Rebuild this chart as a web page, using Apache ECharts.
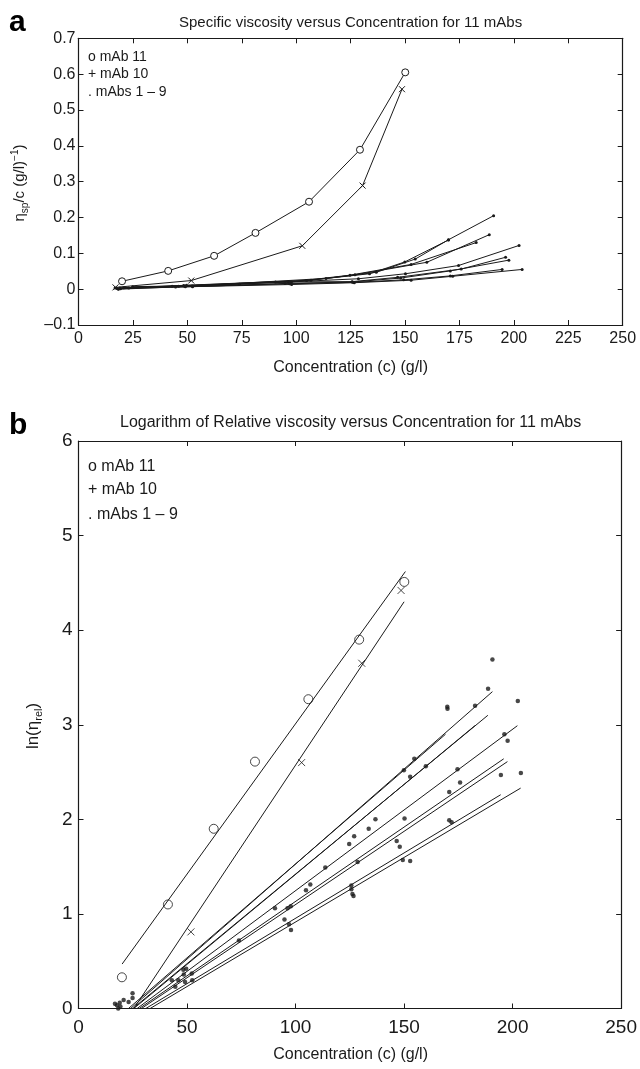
<!DOCTYPE html>
<html>
<head>
<meta charset="utf-8">
<title>Viscosity versus concentration for 11 mAbs</title>
<script src="https://cdn.jsdelivr.net/npm/echarts/dist/echarts.min.js"></script>
<style>
  html, body { margin: 0; padding: 0; background: #fff; }
  #chart { width: 640px; height: 1069px; }
</style>
</head>
<body>
<div id="chart"></div>
<script>
// concentrations (g/l) of mAbs 1 - 9, one row per antibody
const smallConc = [
  [19.0, 49.6, 106.8, 136.8, 154.7, 170.0, 190.7],
  [17.7, 48.3, 104.8, 133.7, 149.9, 169.9],
  [20.8, 52.2, 113.7, 127.0, 160.0, 188.7],
  [24.9, 48.5, 97.8, 124.7, 152.8, 182.7],
  [23.1, 43.0, 96.3, 128.6, 150.2, 174.6, 202.4],
  [16.8, 46.0, 73.9, 90.5, 125.7, 146.6, 175.8, 196.2],
  [24.9, 52.4, 94.9, 125.7, 148.0, 170.8, 197.7],
  [19.3, 49.1, 97.0, 126.2, 149.4, 170.8, 194.6],
  [18.3, 44.6, 97.9, 126.7, 152.8, 171.9, 203.8]
]
// panel a: eta_sp / c
const smallSpVisc = [
  [0.003, 0.011, 0.025, 0.047, 0.084, 0.138, 0.205],
  [0.002, 0.010, 0.024, 0.043, 0.076, 0.137],
  [0.004, 0.009, 0.030, 0.040, 0.075, 0.152],
  [0.007, 0.009, 0.020, 0.039, 0.069, 0.130],
  [0.003, 0.008, 0.020, 0.029, 0.043, 0.066, 0.122],
  [0.003, 0.008, 0.014, 0.020, 0.021, 0.033, 0.056, 0.089],
  [0.005, 0.007, 0.016, 0.020, 0.031, 0.051, 0.081],
  [0.001, 0.007, 0.015, 0.019, 0.026, 0.037, 0.055],
  [0.000, 0.006, 0.013, 0.018, 0.025, 0.036, 0.055]
]
// panel b: ln(eta_rel)
const smallLnRel = [
  [0.06, 0.42, 1.31, 2.00, 2.64, 3.17, 3.69],
  [0.035, 0.41, 1.25, 1.90, 2.52, 3.19],
  [0.09, 0.37, 1.49, 1.82, 2.56, 3.38],
  [0.16, 0.36, 1.08, 1.74, 2.45, 3.20],
  [0.07, 0.30, 1.06, 1.55, 2.01, 2.53, 3.25],
  [0.05, 0.30, 0.72, 1.06, 1.30, 1.77, 2.39, 2.90],
  [0.11, 0.30, 0.94, 1.26, 1.71, 2.29, 2.83],
  [0.02, 0.28, 0.89, 1.21, 1.57, 1.99, 2.47],
  [0.00, 0.23, 0.83, 1.19, 1.56, 1.97, 2.49]
]
// straight fitted lines of panel b for mAbs 1 - 9: from (start, 0) to (end, endValue)
const smallFitStart = [24, 23, 25, 25.5, 27, 28, 29, 31, 33]
const smallFitEnd = [190.7, 169.1, 188.6, 182.6, 202.2, 195.9, 197.6, 194.5, 203.7]
const smallFitEndValue = [3.35, 2.90, 3.10, 2.99, 2.99, 2.64, 2.61, 2.26, 2.33]

// mAb 11
const mab11Conc = [20.0, 41.2, 62.3, 81.3, 105.9, 129.3, 150.1]
const mab11SpVisc = [0.022, 0.051, 0.093, 0.157, 0.244, 0.389, 0.605]
const mab11LnRel = [0.33, 1.10, 1.90, 2.61, 3.27, 3.90, 4.51]
const mab11Fit = [[20.1, 0.47], [150.6, 4.62]]

// mAb 10 (first point only visible in panel a)
const mab10Conc = [17.0, 51.8, 102.8, 130.5, 148.6]
const mab10SpVisc = [0.005, 0.024, 0.121, 0.289, 0.558]
const mab10LnRel = [null, 0.81, 2.60, 3.65, 4.42]
const mab10Fit = [[25.5, 0.0], [150.0, 4.30]]

const FONT = '"Liberation Sans", Arial, Helvetica, sans-serif'
const INK = '#1a1a1a'
const CROSS = 'path://M0,0L10,10M10,0L0,10'

const pairs = (xs, ys) => xs.map((x, i) => [x, ys[i]]).filter(p => p[1] !== null)

function boxAxes(grid, dim, opts) {
  // MATLAB style box: labelled axis plus a mirrored one without labels, ticks inside
  const base = {
    gridIndex: grid,
    type: 'value',
    min: opts.min,
    max: opts.max,
    interval: opts.interval,
    axisLine: { show: true, onZero: false, lineStyle: { color: INK, width: 1.2 } },
    axisTick: { show: true, inside: true, length: 5, lineStyle: { color: INK } },
    splitLine: { show: false }
  }
  const main = Object.assign({}, base, {
    position: dim === 'x' ? 'bottom' : 'left',
    axisLabel: {
      show: true,
      fontFamily: FONT,
      fontSize: opts.fontSize,
      color: INK,
      margin: opts.margin,
      showMinLabel: true,
      showMaxLabel: true,
      formatter: opts.formatter
    }
  })
  const mirror = Object.assign({}, base, {
    position: dim === 'x' ? 'top' : 'right',
    axisLabel: { show: false }
  })
  return [main, mirror]
}

function formatA(v) {
  const r = Math.round(v * 10) / 10
  if (r === 0) return '0'
  return r < 0 ? '\u2013' + String(-r) : String(r)
}

// open circle: white fill, thin dark ring
const ring = { color: '#fff', borderColor: INK, borderWidth: 1 }

const series = []

// ---- panel a ----
smallConc.forEach((conc, i) => {
  series.push({
    type: 'line',
    xAxisIndex: 0,
    yAxisIndex: 0,
    data: pairs(conc, smallSpVisc[i]),
    symbol: 'circle',
    symbolSize: 3,
    lineStyle: { color: INK, width: 1 },
    itemStyle: { color: INK }
  })
})
series.push({
  type: 'line', xAxisIndex: 0, yAxisIndex: 0,
  data: pairs(mab10Conc, mab10SpVisc),
  symbol: CROSS, symbolSize: 6,
  lineStyle: { color: INK, width: 1 },
  itemStyle: { color: 'none', borderColor: INK, borderWidth: 1 }
})
series.push({
  type: 'line', xAxisIndex: 0, yAxisIndex: 0,
  data: pairs(mab11Conc, mab11SpVisc),
  symbol: 'circle', symbolSize: 7,
  lineStyle: { color: INK, width: 1 },
  itemStyle: ring
})

// ---- panel b ----
smallConc.forEach((conc, i) => {
  series.push({
    type: 'line', xAxisIndex: 2, yAxisIndex: 2,
    data: [[smallFitStart[i], 0], [smallFitEnd[i], smallFitEndValue[i]]],
    showSymbol: false,
    lineStyle: { color: INK, width: 1 }
  })
  series.push({
    type: 'scatter', xAxisIndex: 2, yAxisIndex: 2,
    data: pairs(conc, smallLnRel[i]),
    symbol: 'circle', symbolSize: 4.5,
    itemStyle: { color: INK }
  })
})
series.push({
  type: 'line', xAxisIndex: 2, yAxisIndex: 2,
  data: mab11Fit, showSymbol: false,
  lineStyle: { color: INK, width: 1 }
})
series.push({
  type: 'line', xAxisIndex: 2, yAxisIndex: 2,
  data: mab10Fit, showSymbol: false,
  lineStyle: { color: INK, width: 1 }
})
series.push({
  type: 'scatter', xAxisIndex: 2, yAxisIndex: 2,
  data: pairs(mab11Conc, mab11LnRel),
  symbol: 'circle', symbolSize: 9,
  itemStyle: ring
})
series.push({
  type: 'scatter', xAxisIndex: 2, yAxisIndex: 2,
  data: pairs(mab10Conc, mab10LnRel),
  symbol: CROSS, symbolSize: 7,
  itemStyle: { color: 'none', borderColor: INK, borderWidth: 1 }
})

function label(x, y, text, size) {
  return {
    type: 'text', x: x, y: y, silent: true,
    style: {
      text: text,
      font: size + 'px ' + FONT,
      fill: INK,
      textAlign: 'left',
      textVerticalAlign: 'middle'
    }
  }
}

const graphics = [
  // panel letters
  { type: 'text', x: 9, y: 23, style: { text: 'a', font: 'bold 30px ' + FONT, fill: '#000', textVerticalAlign: 'middle' } },
  { type: 'text', x: 9, y: 426, style: { text: 'b', font: 'bold 30px ' + FONT, fill: '#000', textVerticalAlign: 'middle' } },
  // titles
  { type: 'text', x: 350.6, y: 22.5, style: { text: 'Specific viscosity versus Concentration for 11 mAbs', font: '15px ' + FONT, fill: INK, textAlign: 'center', textVerticalAlign: 'middle' } },
  { type: 'text', x: 350.6, y: 423, style: { text: 'Logarithm of Relative viscosity versus Concentration for 11 mAbs', font: '16px ' + FONT, fill: INK, textAlign: 'center', textVerticalAlign: 'middle' } },
  // in-plot legends
  label(88, 57, 'o mAb 11', 14),
  label(88, 74, '+ mAb 10', 14),
  label(88, 92.5, '. mAbs 1 \u2013 9', 14),
  label(88, 467, 'o mAb 11', 16),
  label(88, 490, '+ mAb 10', 16),
  label(88, 515, '. mAbs 1 \u2013 9', 16),
  // x axis names
  { type: 'text', x: 350.6, y: 368, style: { text: 'Concentration (c) (g/l)', font: '16px ' + FONT, fill: INK, textAlign: 'center', textVerticalAlign: 'middle' } },
  { type: 'text', x: 350.6, y: 1055, style: { text: 'Concentration (c) (g/l)', font: '16px ' + FONT, fill: INK, textAlign: 'center', textVerticalAlign: 'middle' } },
  // y axis names with sub/superscripts
  {
    type: 'text', x: 20, y: 183, rotation: Math.PI / 2,
    style: {
      text: '{n|\u03b7}{s|sp}{n|/c (g/l)}{p|\u22121}{n|)}',
      fill: INK, textAlign: 'center', textVerticalAlign: 'middle',
      rich: {
        n: { fontFamily: FONT, fontSize: 15, lineHeight: 20, verticalAlign: 'middle', fill: INK },
        s: { fontFamily: FONT, fontSize: 10, lineHeight: 10, verticalAlign: 'bottom', fill: INK },
        p: { fontFamily: FONT, fontSize: 10, lineHeight: 10, verticalAlign: 'top', fill: INK }
      }
    }
  },
  {
    type: 'text', x: 33, y: 726, rotation: Math.PI / 2,
    style: {
      text: '{n|ln(\u03b7}{s|rel}{n|)}',
      fill: INK, textAlign: 'center', textVerticalAlign: 'middle',
      rich: {
        n: { fontFamily: FONT, fontSize: 17, lineHeight: 22, verticalAlign: 'middle', fill: INK },
        s: { fontFamily: FONT, fontSize: 11, lineHeight: 11, verticalAlign: 'bottom', fill: INK }
      }
    }
  }
]

const chart = echarts.init(document.getElementById('chart'), null, { renderer: 'canvas' })
chart.setOption({
  animation: false,
  backgroundColor: '#fff',
  textStyle: { fontFamily: FONT },
  grid: [
    { left: 78.5, top: 38.3, width: 544.2, height: 286.7 },
    { left: 78.5, top: 441, width: 544.2, height: 567.5 }
  ],
  xAxis: [
    ...boxAxes(0, 'x', { min: 0, max: 250, interval: 25, fontSize: 16, margin: 6 }),
    ...boxAxes(1, 'x', { min: 0, max: 250, interval: 50, fontSize: 19, margin: 10 })
  ],
  yAxis: [
    ...boxAxes(0, 'y', { min: -0.1, max: 0.7, interval: 0.1, fontSize: 16, margin: 3, formatter: formatA }),
    ...boxAxes(1, 'y', { min: 0, max: 6, interval: 1, fontSize: 19, margin: 6 })
  ],
  series: series,
  graphic: graphics
})
</script>
</body>
</html>
